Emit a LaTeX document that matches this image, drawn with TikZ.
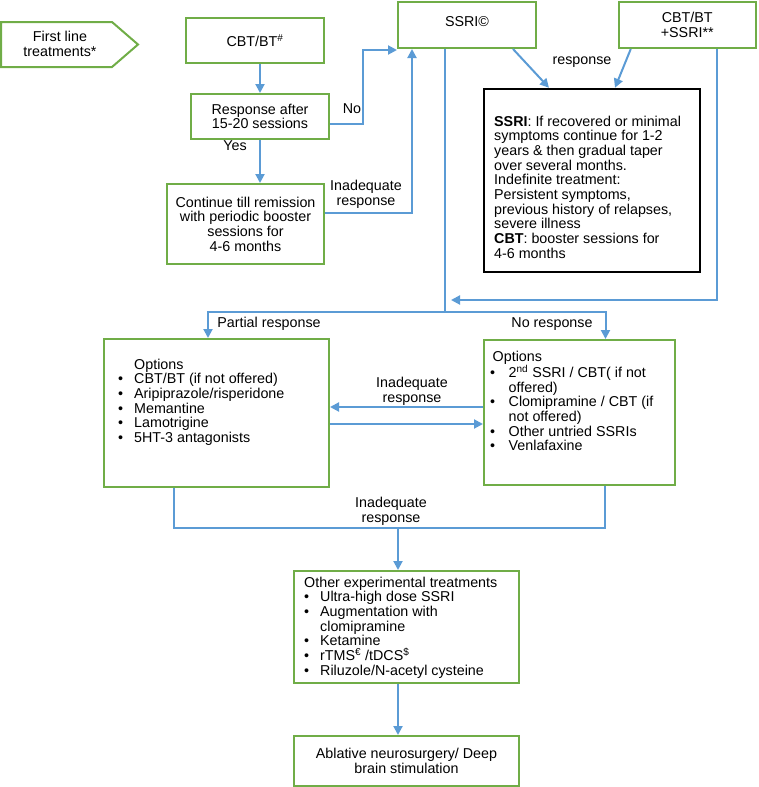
\documentclass[tikz,border=0pt]{standalone}
\usepackage{fontspec}
\setmainfont{Liberation Sans}
\usetikzlibrary{arrows.meta}
\definecolor{boxgreen}{HTML}{70AD47}
\definecolor{linkblue}{HTML}{5B9BD5}
\newcommand{\mainf}{\fontsize{14.3}{14.7}\selectfont}
\newcommand{\bul}[1]{\makebox[#1][l]{•}}
\newcommand{\toplines}[2]{\parbox[t]{#1}{\raggedright #2}}
\tikzset{
  gbox/.style={draw=boxgreen, line width=2pt, inner sep=0pt, align=center, font=\mainf},
  conn/.style={draw=linkblue, line width=2pt},
  arr/.style={conn, -{Triangle[length=9pt,width=9pt]}},
  lbl/.style={inner sep=0pt, align=center, font=\mainf},
  listtext/.style={inner sep=0pt, font=\mainf, anchor=base west},
}
\begin{document}
\begin{tikzpicture}[x=1pt,y=-1pt]
\useasboundingbox (0,0) rectangle (758,787);

% first line treatments pentagon
\draw[draw=boxgreen, line width=2pt] (1,22) -- (112,22) -- (138,44.5) -- (112,67) -- (1,67) -- cycle;
\node[lbl] (first) at (60,44) {First line\\treatments*};

% boxes
\node[gbox, minimum width=138pt, minimum height=45pt] (cbt) at (255,40.5) {CBT/BT\textsuperscript{\#}};
\node[gbox, minimum width=138pt, minimum height=45pt] (resp) at (260,116.5) {Response after\\15-20 sessions};
\node[gbox, minimum width=157pt, minimum height=80pt] (cont) at (245.5,224) {Continue till remission\\with periodic booster\\sessions for\\4-6 months};
\node[gbox, minimum width=138pt, minimum height=46.5pt] (ssri) at (467,24.75) {SSRI©\rule[-7pt]{0pt}{0pt}};
\node[gbox, minimum width=136.5pt, minimum height=46.5pt] (combo) at (687.25,24.75) {CBT/BT\\+SSRI**};
\node[draw=black, line width=2.5pt, inner sep=0pt, minimum width=216pt, minimum height=183pt] (black) at (592,180.5) {};
\node[listtext] (blacktext) at (494,126) {\toplines{204pt}{\textbf{SSRI}: If recovered or minimal\\symptoms continue for 1-2\\years \& then gradual taper\\over several months.\\Indefinite treatment:\\Persistent symptoms,\\previous history of relapses,\\severe illness\\\textbf{CBT}: booster sessions for\\4-6 months}};

\node[gbox, minimum width=225pt, minimum height=148pt] (lopt) at (216.5,413) {};
\node[listtext] (lopttext) at (118,369) {\toplines{208pt}{\hspace*{16pt}Options\\\bul{16pt}CBT/BT (if not offered)\\\bul{16pt}Aripiprazole/risperidone\\\bul{16pt}Memantine\\\bul{16pt}Lamotrigine\\\bul{16pt}5HT-3 antagonists}};

\node[gbox, minimum width=191pt, minimum height=145pt] (ropt) at (579.5,412.5) {};
\node[listtext] (ropttext) at (490,361) {\toplines{184pt}{\hspace*{2.5pt}Options\\\bul{18.5pt}2\textsuperscript{nd} SSRI / CBT( if not\\\hspace*{18.5pt}offered)\\\bul{18.5pt}Clomipramine / CBT (if\\\hspace*{18.5pt}not offered)\\\bul{18.5pt}Other untried SSRIs\\\bul{18.5pt}Venlafaxine}};

\node[gbox, minimum width=225pt, minimum height=112pt] (exp) at (406.5,627) {};
\node[listtext] (exptext) at (304,587) {\toplines{214pt}{Other experimental treatments\\\bul{16pt}Ultra-high dose SSRI\\\bul{16pt}Augmentation with\\\hspace*{16pt}clomipramine\\\bul{16pt}Ketamine\\\bul{16pt}rTMS\textsuperscript{€} /tDCS\textsuperscript{\$}\\\bul{16pt}Riluzole/N-acetyl cysteine}};

\node[gbox, minimum width=225pt, minimum height=50pt] (abl) at (406.5,761) {Ablative neurosurgery/ Deep\\brain stimulation};

% helper coordinates
\coordinate (nobend) at (363,50);
\coordinate (rejoin) at (451,300);
\coordinate (split) at (445,312);
\coordinate (bl) at (174,528);
\coordinate (br) at (605,528);

% connectors
\draw[arr] (resp.north |- cbt.south) -- (resp.north);
\draw[arr] (resp.south) -- (resp.south |- cont.north);
\draw[arr] ([yshift=-7.5pt]resp.east) -| (nobend) -- (ssri.south west |- nobend);
\draw[arr] ([yshift=11pt]cont.east) -| ([xshift=-55pt]ssri.south);
\draw[arr] ([xshift=46pt]ssri.south) -- ([xshift=-43pt]black.north);
\draw[arr] ([xshift=-56.5pt]combo.south) -- ([xshift=23pt]black.north);
\draw[arr] ([xshift=29.5pt]combo.south) |- (rejoin);
\draw[conn] ([xshift=-22pt]ssri.south) -- (split);
\draw[arr] (split) -| ([xshift=-8.5pt]lopt.north);
\draw[arr] (split) -| ([xshift=26pt]ropt.north);
\draw[arr] ([yshift=5.5pt]ropt.west) -- ([yshift=5.5pt]ropt.west -| lopt.east);
\draw[arr] ([yshift=-11.5pt]ropt.west -| lopt.east) -- ([yshift=-11.5pt]ropt.west);
\draw[conn] (lopt.south -| bl) -- (bl) -- (br) -- (ropt.south -| br);
\draw[arr] ([xshift=-8.5pt]exp.north |- bl) -- ([xshift=-8.5pt]exp.north);
\draw[arr] ([xshift=-8.5pt]exp.south) -- ([xshift=-8.5pt]abl.north);

% labels
\node[lbl] (yes) at (235,146) {Yes};
\node[lbl] (no) at (352,109) {No};
\node[lbl] (inad1) at (366,194) {Inadequate\\response};
\node[lbl] (respl) at (582,62) {response};
\node[lbl] (partial) at (269,324) {Partial response};
\node[lbl] (noresp) at (552,324) {No response};
\node[lbl] (inad2) at (412,391) {Inadequate\\response};
\node[lbl] (inad3) at (391,511) {Inadequate\\response};
\end{tikzpicture}
\end{document}
